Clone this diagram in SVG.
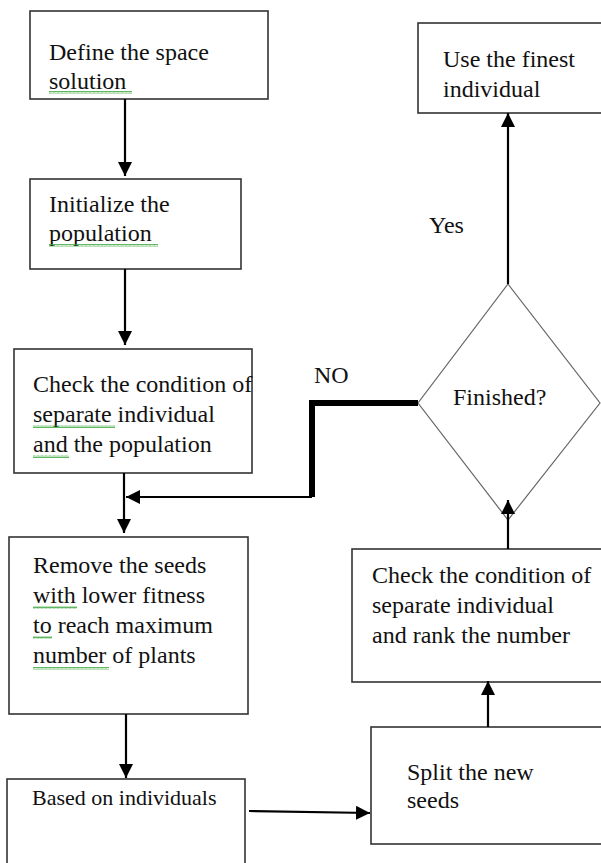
<svg xmlns="http://www.w3.org/2000/svg" width="601" height="863" viewBox="0 0 601 863">
<defs>
<marker id="ah" markerWidth="14" markerHeight="14" refX="14" refY="7" orient="auto" markerUnits="userSpaceOnUse">
<path d="M0,0 L14,7 L0,14 Z" fill="#000"/>
</marker>
<pattern id="wave" width="4" height="3" patternUnits="userSpaceOnUse">
<path d="M0,2.5 L1,0.5 L2,2.5 L3,0.5 L4,2.5" fill="none" stroke="#3aa53a" stroke-width="0.8"/>
</pattern>
<style>
.box{fill:#fff;stroke:#333;stroke-width:1.6}
.dia{fill:#fff;stroke:#666;stroke-width:1.2}
.t{font-family:"Liberation Serif","Times New Roman",serif;font-size:24px;fill:#111}
.ts{font-family:"Liberation Serif","Times New Roman",serif;font-size:22px;fill:#111}
.c{fill:none;stroke:#000;stroke-width:2.2}
.thick{fill:none;stroke:#000;stroke-width:6}
.sq{fill:url(#wave)}
</style>
</defs>
<g id="n1">
<rect class="box" x="30" y="11" width="238" height="88"/>
<text class="t" x="49" y="60">Define the space</text>
<text class="t" x="49" y="89">solution</text>
<rect class="sq" x="49" y="91" width="83" height="3"/>
</g>
<g id="n2">
<rect class="box" x="30" y="179" width="211" height="90"/>
<text class="t" x="49" y="212">Initialize the</text>
<text class="t" x="49" y="241">population</text>
<rect class="sq" x="49" y="244" width="109" height="3"/>
</g>
<g id="n3">
<rect class="box" x="14" y="349" width="238" height="124"/>
<text class="t" x="33" y="392">Check the condition of</text>
<text class="t" x="33" y="422">separate individual</text>
<text class="t" x="33" y="452">and the population</text>
<rect class="sq" x="33" y="425" width="82" height="3"/>
<rect class="sq" x="33" y="455" width="36" height="3"/>
</g>
<g id="n4">
<rect class="box" x="9" y="537" width="239" height="177"/>
<text class="t" x="33" y="573">Remove the seeds</text>
<text class="t" x="33" y="603">with lower fitness</text>
<text class="t" x="33" y="633">to reach maximum</text>
<text class="t" x="33" y="663">number of plants</text>
<rect class="sq" x="33" y="606" width="44" height="3"/>
<rect class="sq" x="33" y="636" width="19" height="3"/>
<rect class="sq" x="33" y="667" width="76" height="3"/>
</g>
<g id="n5">
<rect class="box" x="7" y="779" width="238" height="100"/>
<text class="ts" x="32" y="805">Based on individuals</text>
</g>
<g id="n6">
<rect class="box" x="371" y="727" width="240" height="117"/>
<text class="t" x="407" y="780">Split the new</text>
<text class="t" x="407" y="808">seeds</text>
</g>
<g id="n7">
<rect class="box" x="352" y="549" width="260" height="133"/>
<text class="t" x="372" y="583">Check the condition of</text>
<text class="t" x="372" y="613">separate individual</text>
<text class="t" x="372" y="643">and rank the number</text>
</g>
<g id="n8">
<path class="dia" d="M508,284 L600,403 L508,520 L418,403 Z"/>
<text class="t" x="453" y="405">Finished?</text>
</g>
<g id="n9">
<rect class="box" x="418" y="23" width="194" height="90"/>
<text class="t" x="443" y="67">Use the finest</text>
<text class="t" x="443" y="97">individual</text>
</g>
<g id="connectors">
<line class="c" x1="125" y1="99" x2="125" y2="176" marker-end="url(#ah)"/>
<line class="c" x1="125" y1="269" x2="125" y2="345" marker-end="url(#ah)"/>
<line class="c" x1="124" y1="473" x2="124" y2="533" marker-end="url(#ah)"/>
<line class="c" x1="126" y1="714" x2="126" y2="778" marker-end="url(#ah)"/>
<line class="c" x1="249" y1="811" x2="370" y2="813" marker-end="url(#ah)"/>
<line class="c" x1="488" y1="727" x2="488" y2="681" marker-end="url(#ah)"/>
<line class="c" x1="508" y1="549" x2="508" y2="500" marker-end="url(#ah)"/>
<line class="c" x1="508" y1="284" x2="508" y2="113" marker-end="url(#ah)"/>
<path class="thick" d="M418,403 L312,403 L312,497"/>
<line class="c" x1="312" y1="497" x2="126" y2="497" marker-end="url(#ah)"/>
<text class="t" x="314" y="383">NO</text>
<text class="t" x="429" y="233">Yes</text>
</g>
</svg>
